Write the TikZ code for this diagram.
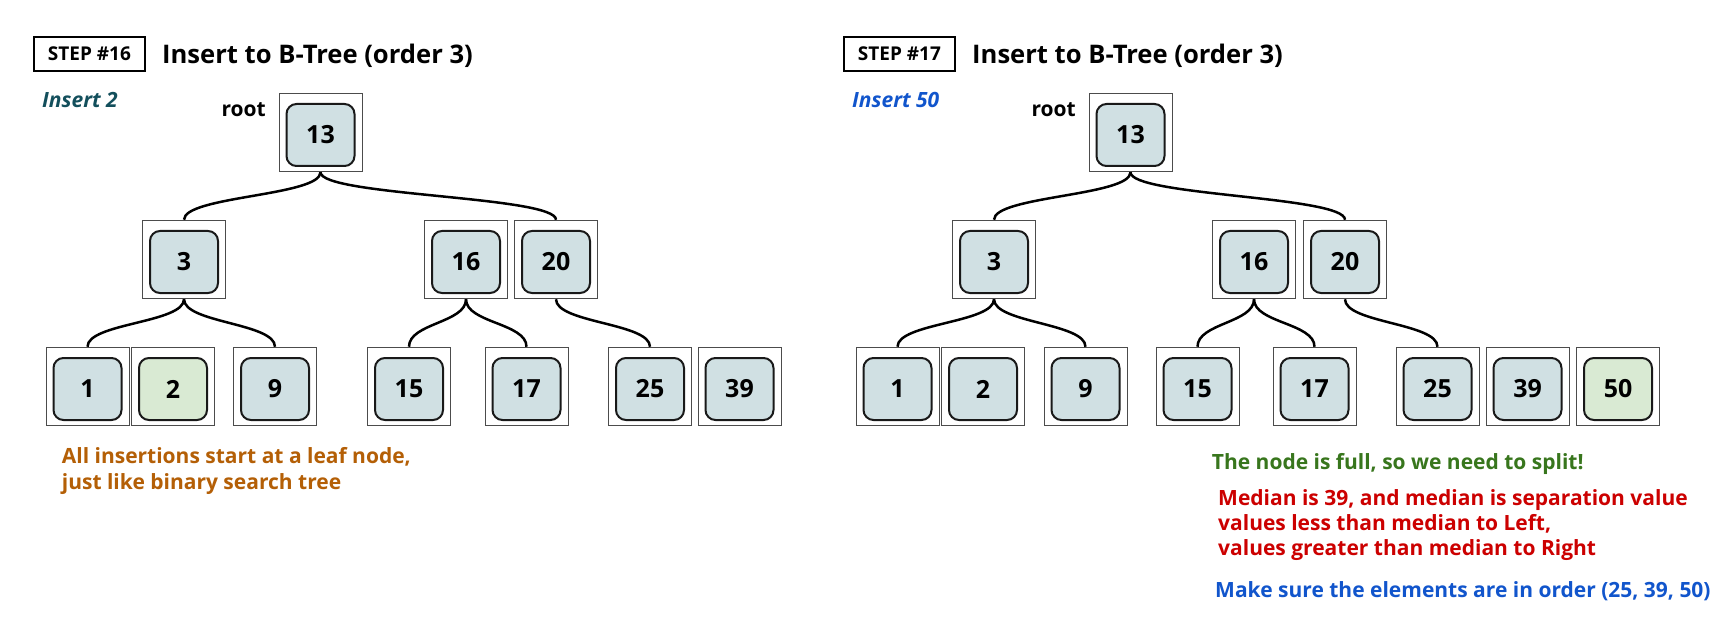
\documentclass[tikz,border=0pt]{standalone}
\usepackage{fontspec}
\setmainfont{Open Sans}
\usetikzlibrary{calc}
\definecolor{keyfill}{HTML}{D0E0E3}
\definecolor{newfill}{HTML}{D9EAD3}
\definecolor{tealtxt}{HTML}{134F5C}
\definecolor{bluetxt}{HTML}{1155CC}
\definecolor{orangetxt}{HTML}{B45F06}
\definecolor{greentxt}{HTML}{38761D}
\definecolor{redtxt}{HTML}{CC0000}
\newcommand\bkey[5]{%
  \node[outerbox] (#1) at (#2,#3) {};
  \node[keybox,fill=#5] (#1i) at ([yshift=-2.5pt]#1.center) {#4};}
\newcommand\blink[2]{%
  \draw[edge] (#1.south) .. controls +(0,-23.7pt) and +(0,23.7pt) .. (#2.north);}
\begin{document}
\begin{tikzpicture}[x=1pt,y=-1pt,
  outerbox/.style={draw=black!70, line width=1pt, minimum width=83pt, minimum height=78.5pt, inner sep=0pt},
  keybox/.style={draw=black!90, line width=2pt, rounded corners=10pt, minimum width=68pt, minimum height=62pt, inner sep=0pt, font=\bfseries\fontsize{25}{30}\selectfont},
  edge/.style={line width=2.5pt, black},
  stepbox/.style={draw=black, line width=2pt, minimum width=111pt, minimum height=34.6pt, inner sep=0pt, font=\bfseries\fontsize{19}{22}\selectfont},
  title/.style={anchor=base west, inner sep=0pt, font=\bfseries\fontsize{25.6}{30}\selectfont},
  note/.style={anchor=base west, inner sep=0pt, font=\bfseries\fontsize{21}{25}\selectfont},
  rootlbl/.style={anchor=base east, inner sep=0pt, font=\bfseries\fontsize{21}{25}\selectfont},
  insertlbl/.style={anchor=base west, inner sep=0pt, font=\bfseries\itshape\fontsize{21}{25}\selectfont}]
\useasboundingbox (0,0) rectangle (1718,636);
\fill[white] (0,0) rectangle (1718,636);

% ---------- left panel: step 16 ----------
\node[stepbox] (s16) at (89.4,54) {STEP \#16};
\node[title] (t16) at (162,63.3) {Insert to B-Tree (order 3)};
\node[insertlbl, text=tealtxt] (i16) at (42,108) {Insert 2};
\node[rootlbl] (r16) at (266,117) {root};

\bkey{L13}{320.5}{132.5}{13}{keyfill}
\bkey{L3}{184}{259.5}{3}{keyfill}
\bkey{L16}{466}{259.5}{16}{keyfill}
\bkey{L20}{556}{259.5}{20}{keyfill}
\bkey{L1}{87.5}{386.5}{1}{keyfill}
\bkey{L2}{173}{386.5}{2}{newfill}
\bkey{L9}{275}{386.5}{9}{keyfill}
\bkey{L15}{409}{386.5}{15}{keyfill}
\bkey{L17}{526.5}{386.5}{17}{keyfill}
\bkey{L25}{650}{386.5}{25}{keyfill}
\bkey{L39}{739.5}{386.5}{39}{keyfill}

\blink{L13}{L3}
\blink{L13}{L20}
\blink{L3}{L1}
\blink{L3}{L9}
\blink{L16}{L15}
\blink{L16}{L17}
\blink{L20}{L25}

\node[note, text=orangetxt] (n1a) at (61.7,463) {All insertions start at a leaf node,};
\node[note, text=orangetxt] (n1b) at (61.7,489) {just like binary search tree};

% ---------- right panel: step 17 ----------
\node[stepbox] (s17) at (899.4,54) {STEP \#17};
\node[title] (t17) at (972,63.3) {Insert to B-Tree (order 3)};
\node[insertlbl, text=bluetxt] (i17) at (852,108) {Insert 50};
\node[rootlbl] (r17) at (1076,117) {root};

\bkey{R13}{1130.5}{132.5}{13}{keyfill}
\bkey{R3}{994}{259.5}{3}{keyfill}
\bkey{R16}{1254}{259.5}{16}{keyfill}
\bkey{R20}{1345}{259.5}{20}{keyfill}
\bkey{R1}{897.5}{386.5}{1}{keyfill}
\bkey{R2}{983}{386.5}{2}{keyfill}
\bkey{R9}{1085.5}{386.5}{9}{keyfill}
\bkey{R15}{1197.5}{386.5}{15}{keyfill}
\bkey{R17}{1314.5}{386.5}{17}{keyfill}
\bkey{R25}{1437.5}{386.5}{25}{keyfill}
\bkey{R39}{1527.5}{386.5}{39}{keyfill}
\bkey{R50}{1618}{386.5}{50}{newfill}

\blink{R13}{R3}
\blink{R13}{R20}
\blink{R3}{R1}
\blink{R3}{R9}
\blink{R16}{R15}
\blink{R16}{R17}
\blink{R20}{R25}

\node[note, text=greentxt] (n2) at (1211.7,469) {The node is full, so we need to split!};
\node[note, text=redtxt] (n3a) at (1218,505) {Median is 39, and median is separation value};
\node[note, text=redtxt] (n3b) at (1218,530.5) {values less than median to Left,};
\node[note, text=redtxt] (n3c) at (1218,555.5) {values greater than median to Right};
\node[note, text=bluetxt] (n4) at (1215,597) {Make sure the elements are in order (25, 39, 50)};
\end{tikzpicture}
\end{document}
